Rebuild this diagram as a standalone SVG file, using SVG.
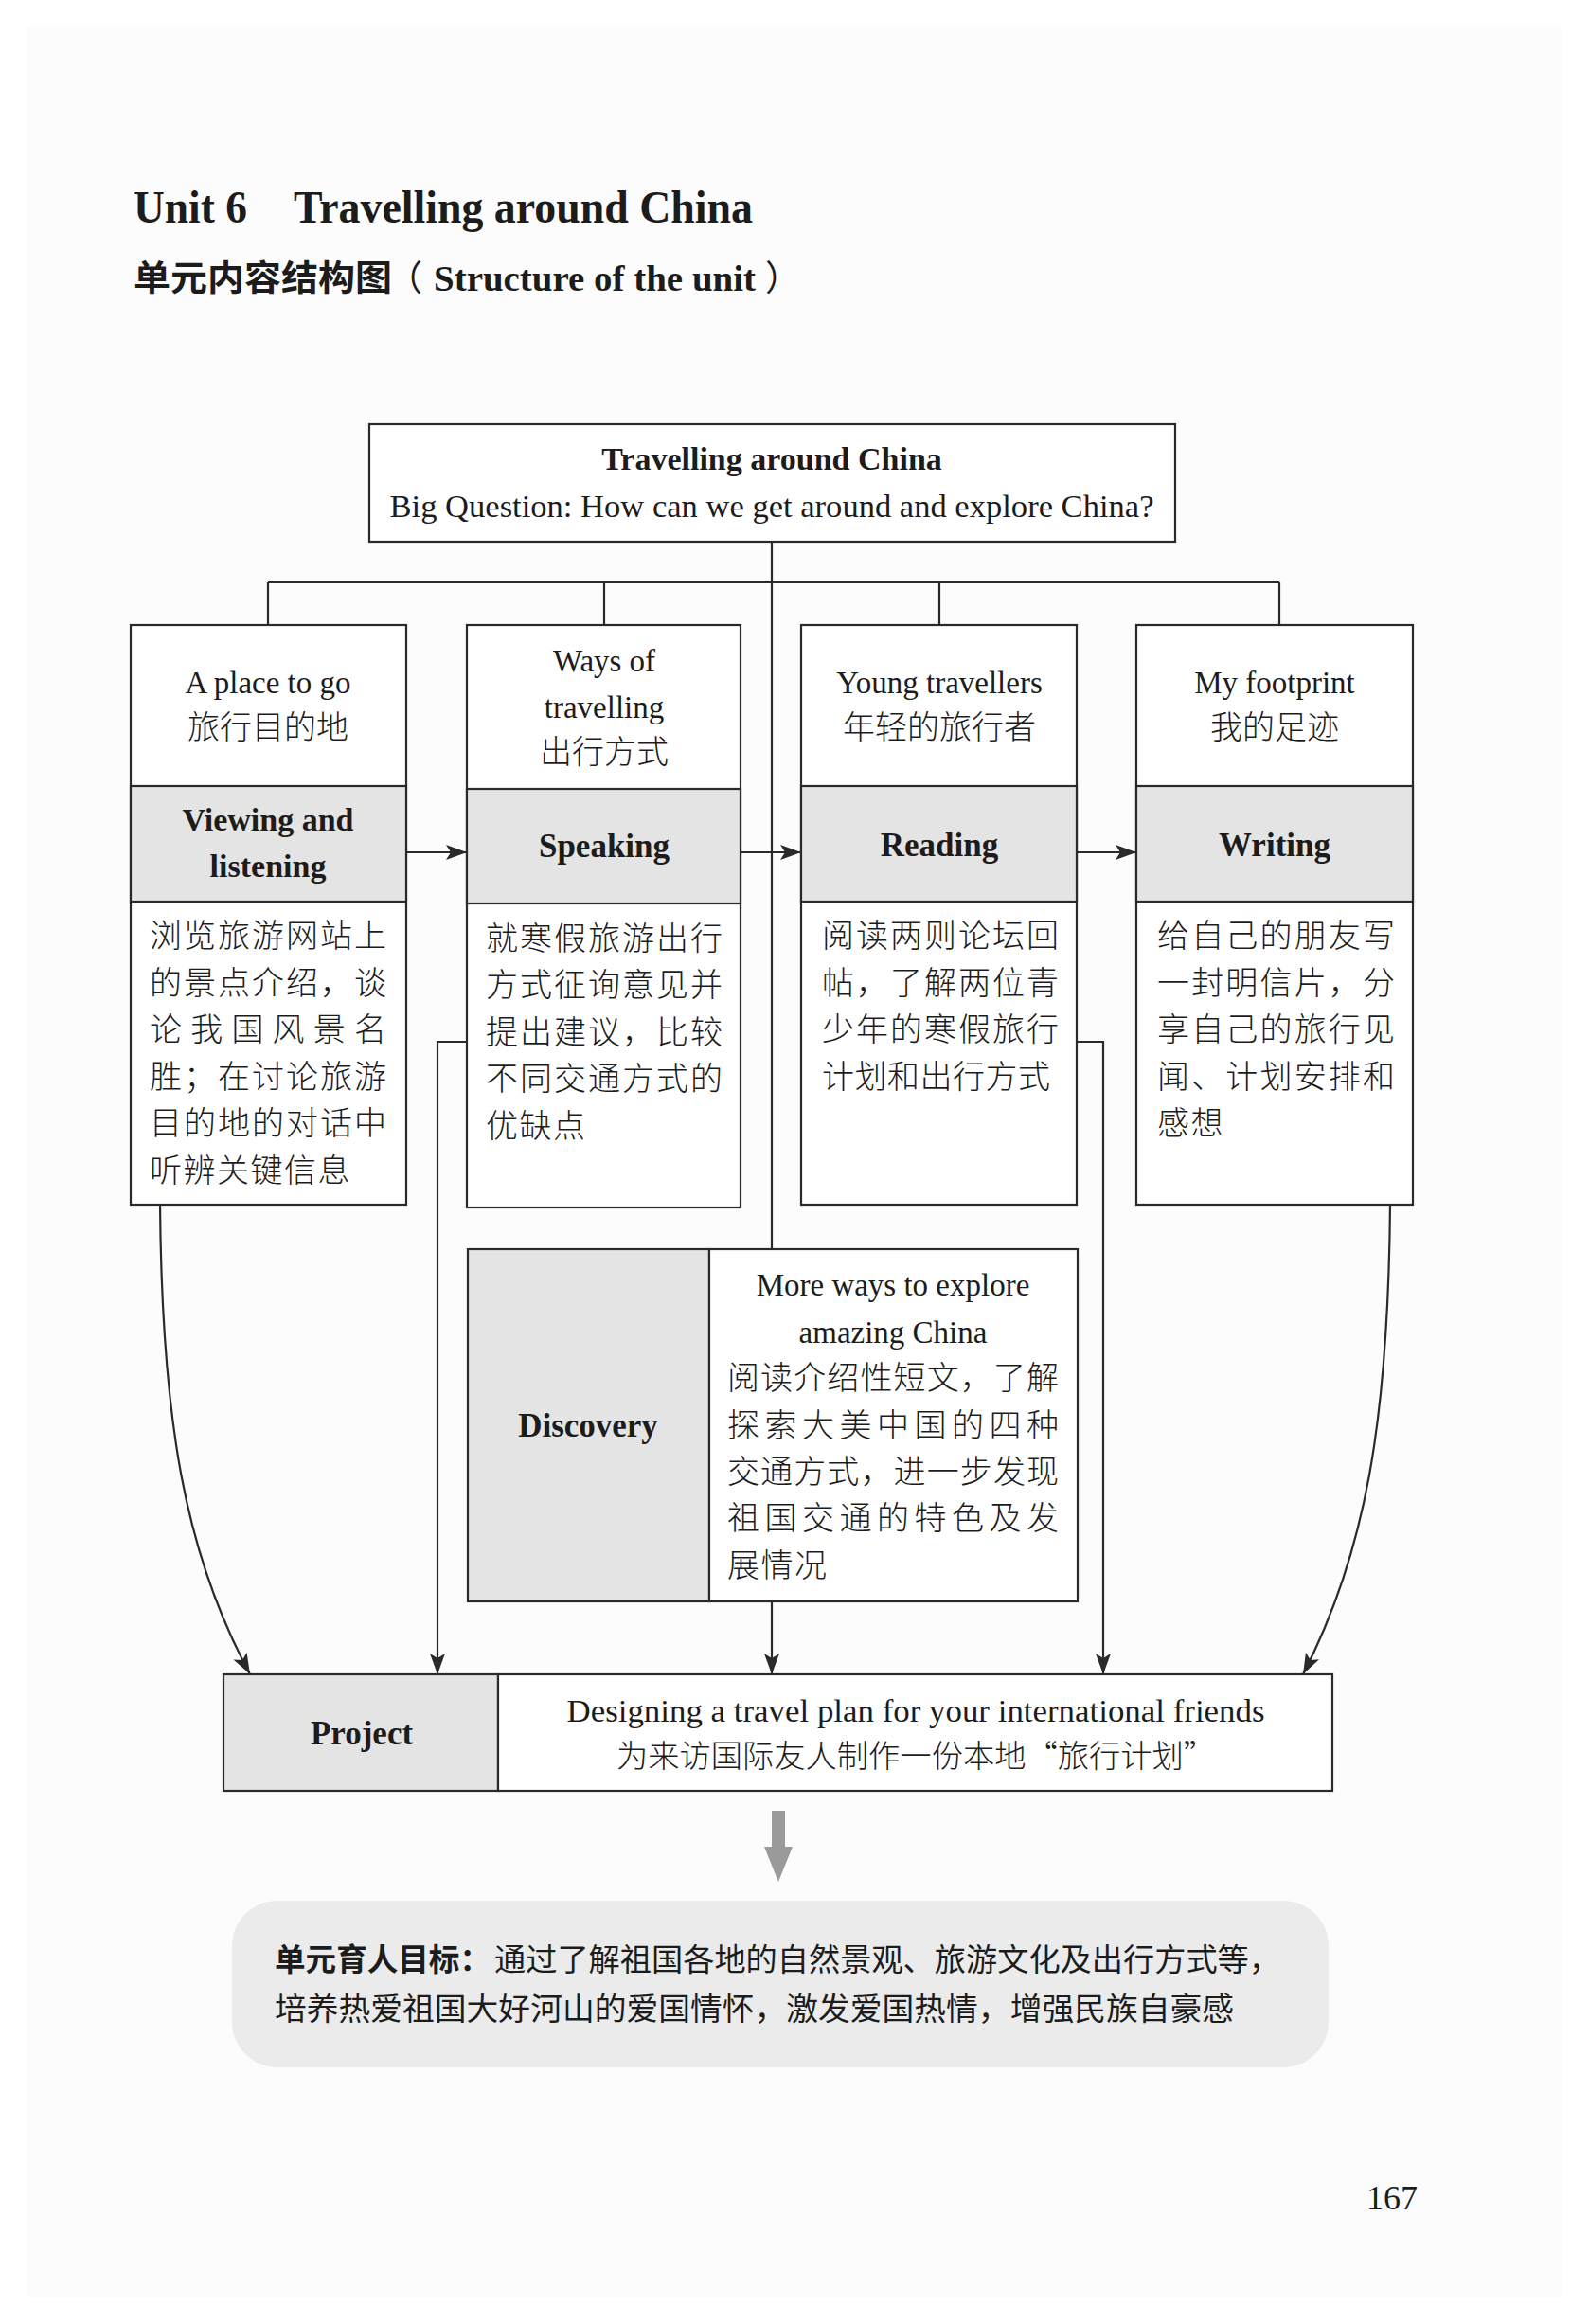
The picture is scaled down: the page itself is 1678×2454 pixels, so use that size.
<svg xmlns="http://www.w3.org/2000/svg" width="1678" height="2454" viewBox="0 0 1678 2454">
<style>
.en{font-family:"Liberation Serif","Times New Roman",serif;fill:#1c1c1c}
.b{font-weight:bold}
.cn{font-family:"Noto Sans CJK SC","Noto Sans",sans-serif;fill:#1c1c1c;font-weight:300}
.cnr{font-family:"Noto Sans CJK SC","Noto Sans",sans-serif;fill:#1c1c1c;font-weight:400}
.cnb{font-family:"Noto Sans CJK SC","Noto Sans",sans-serif;fill:#1c1c1c;font-weight:700}
.box{fill:#ffffff;stroke:#2a2a2a;stroke-width:2.2}
.band{fill:#e4e4e4;stroke:#2a2a2a;stroke-width:2.2}
.ln{fill:none;stroke:#2a2a2a;stroke-width:2.2}
.arr{fill:none;stroke:#2a2a2a;stroke-width:2.2;marker-end:url(#ah)}
.mid{text-anchor:middle}
</style>
<defs>
<marker id="ah" markerUnits="userSpaceOnUse" markerWidth="24" markerHeight="18" refX="22" refY="8" orient="auto">
<path d="M0,0 L22,8 L0,16 L5,8 Z" fill="#2a2a2a"/>
</marker>
</defs>
<rect x="0" y="0" width="1678" height="2454" fill="#ffffff"/>
<rect x="28" y="28" width="1621" height="2398" fill="#fcfcfc"/>

<g id="title">
<text class="en b" x="141" y="235" font-size="48" textLength="120" lengthAdjust="spacingAndGlyphs">Unit 6</text>
<text class="en b" x="310" y="235" font-size="48" textLength="485" lengthAdjust="spacingAndGlyphs">Travelling around China</text>
<text class="cnb" x="141" y="307" font-size="37" textLength="273" lengthAdjust="spacingAndGlyphs">单元内容结构图</text>
<text class="cnr" x="409" y="307" font-size="37">（</text>
<text class="en b" x="458" y="307" font-size="38" textLength="340" lengthAdjust="spacingAndGlyphs">Structure of the unit</text>
<text class="cnr" x="808" y="307" font-size="37">）</text>
</g>

<g id="connectors">
<line class="ln" x1="815" y1="572" x2="815" y2="1318"/>
<line class="ln" x1="283" y1="615" x2="1351" y2="615"/>
<line class="ln" x1="283" y1="615" x2="283" y2="660"/>
<line class="ln" x1="638" y1="615" x2="638" y2="660"/>
<line class="ln" x1="992" y1="615" x2="992" y2="660"/>
<line class="ln" x1="1351" y1="615" x2="1351" y2="660"/>
<line class="arr" x1="429" y1="900" x2="493" y2="900"/>
<line class="arr" x1="782" y1="900" x2="846" y2="900"/>
<line class="arr" x1="1137" y1="900" x2="1200" y2="900"/>
<path class="arr" d="M169,1272 C171,1500 195,1640 264,1768"/>
<path class="arr" d="M493,1100 L462,1100 L462,1768"/>
<line class="arr" x1="815" y1="1691" x2="815" y2="1768"/>
<path class="arr" d="M1137,1100 L1165,1100 L1165,1768"/>
<path class="arr" d="M1468,1272 C1466,1500 1442,1640 1376,1768"/>
</g>

<g id="top-node">
<rect class="box" x="390" y="448" width="851" height="124"/>
<text class="en b mid" x="815" y="496" font-size="34">Travelling around China</text>
<text class="en mid" x="815" y="546" font-size="33" textLength="807" lengthAdjust="spacingAndGlyphs">Big Question: How can we get around and explore China?</text>
</g>

<g id="node-viewing">
<rect class="box" x="138" y="660" width="291" height="612"/>
<rect class="band" x="138" y="830" width="291" height="122"/>
<text class="en mid" x="283" y="732" font-size="33">A place to go</text>
<text class="cn mid" x="283" y="780" font-size="34">旅行目的地</text>
<text class="en b mid" x="283" y="877" font-size="34">Viewing and</text>
<text class="en b mid" x="283" y="926" font-size="34">listening</text>
<text class="cn" x="158" y="1000" font-size="34" textLength="250" lengthAdjust="spacing">浏览旅游网站上</text>
<text class="cn" x="158" y="1050" font-size="34" textLength="250" lengthAdjust="spacing">的景点介绍，谈</text>
<text class="cn" x="158" y="1099" font-size="34" textLength="250" lengthAdjust="spacing">论我国风景名</text>
<text class="cn" x="158" y="1149" font-size="34" textLength="250" lengthAdjust="spacing">胜；在讨论旅游</text>
<text class="cn" x="158" y="1198" font-size="34" textLength="250" lengthAdjust="spacing">目的地的对话中</text>
<text class="cn" x="158" y="1248" font-size="34" letter-spacing="1.5">听辨关键信息</text>
</g>

<g id="node-speaking">
<rect class="box" x="493" y="660" width="289" height="615"/>
<rect class="band" x="493" y="833" width="289" height="121"/>
<text class="en mid" x="638" y="709" font-size="33">Ways of</text>
<text class="en mid" x="638" y="758" font-size="33">travelling</text>
<text class="cn mid" x="638" y="806" font-size="34">出行方式</text>
<text class="en b mid" x="638" y="905" font-size="35">Speaking</text>
<text class="cn" x="513" y="1003" font-size="34" textLength="250" lengthAdjust="spacing">就寒假旅游出行</text>
<text class="cn" x="513" y="1052" font-size="34" textLength="250" lengthAdjust="spacing">方式征询意见并</text>
<text class="cn" x="513" y="1102" font-size="34" textLength="250" lengthAdjust="spacing">提出建议，比较</text>
<text class="cn" x="513" y="1151" font-size="34" textLength="250" lengthAdjust="spacing">不同交通方式的</text>
<text class="cn" x="513" y="1201" font-size="34" letter-spacing="1.5">优缺点</text>
</g>

<g id="node-reading">
<rect class="box" x="846" y="660" width="291" height="612"/>
<rect class="band" x="846" y="830" width="291" height="122"/>
<text class="en mid" x="992" y="732" font-size="33">Young travellers</text>
<text class="cn mid" x="992" y="780" font-size="34">年轻的旅行者</text>
<text class="en b mid" x="992" y="904" font-size="35">Reading</text>
<text class="cn" x="868" y="1000" font-size="34" textLength="250" lengthAdjust="spacing">阅读两则论坛回</text>
<text class="cn" x="868" y="1050" font-size="34" textLength="250" lengthAdjust="spacing">帖，了解两位青</text>
<text class="cn" x="868" y="1099" font-size="34" textLength="250" lengthAdjust="spacing">少年的寒假旅行</text>
<text class="cn" x="868" y="1149" font-size="34" letter-spacing="0.5">计划和出行方式</text>
</g>

<g id="node-writing">
<rect class="box" x="1200" y="660" width="292" height="612"/>
<rect class="band" x="1200" y="830" width="292" height="122"/>
<text class="en mid" x="1346" y="732" font-size="33">My footprint</text>
<text class="cn mid" x="1346" y="780" font-size="34">我的足迹</text>
<text class="en b mid" x="1346" y="904" font-size="35">Writing</text>
<text class="cn" x="1222" y="1000" font-size="34" textLength="251" lengthAdjust="spacing">给自己的朋友写</text>
<text class="cn" x="1222" y="1050" font-size="34" textLength="251" lengthAdjust="spacing">一封明信片，分</text>
<text class="cn" x="1222" y="1099" font-size="34" textLength="251" lengthAdjust="spacing">享自己的旅行见</text>
<text class="cn" x="1222" y="1149" font-size="34" textLength="251" lengthAdjust="spacing">闻、计划安排和</text>
<text class="cn" x="1222" y="1198" font-size="34" letter-spacing="1.5">感想</text>
</g>

<g id="node-discovery">
<rect class="band" x="494" y="1319" width="255" height="372"/>
<rect class="box" x="749" y="1319" width="389" height="372"/>
<text class="en b mid" x="621" y="1517" font-size="35">Discovery</text>
<text class="en mid" x="943" y="1368" font-size="33">More ways to explore</text>
<text class="en mid" x="943" y="1418" font-size="33">amazing China</text>
<text class="cn" x="768" y="1467" font-size="34" textLength="350" lengthAdjust="spacing">阅读介绍性短文，了解</text>
<text class="cn" x="768" y="1517" font-size="34" textLength="350" lengthAdjust="spacing">探索大美中国的四种</text>
<text class="cn" x="768" y="1566" font-size="34" textLength="350" lengthAdjust="spacing">交通方式，进一步发现</text>
<text class="cn" x="768" y="1615" font-size="34" textLength="350" lengthAdjust="spacing">祖国交通的特色及发</text>
<text class="cn" x="768" y="1665" font-size="34" letter-spacing="1.5">展情况</text>
</g>

<g id="node-project">
<rect class="band" x="236" y="1768" width="290" height="123"/>
<rect class="box" x="526" y="1768" width="881" height="123"/>
<text class="en b mid" x="382" y="1842" font-size="35">Project</text>
<text class="en mid" x="967" y="1818" font-size="34" textLength="737" lengthAdjust="spacingAndGlyphs">Designing a travel plan for your international friends</text>
<text class="cn mid" x="967" y="1866" font-size="33" textLength="632" lengthAdjust="spacingAndGlyphs">为来访国际友人制作一份本地“旅行计划”</text>
</g>

<g id="goal-arrow">
<path d="M815,1912 L829,1912 L829,1950 L837,1950 L822,1987 L807,1950 L815,1950 Z" fill="#9a9a9a"/>
</g>

<g id="node-goal">
<rect x="245" y="2007" width="1158" height="176" rx="48" ry="48" fill="#ebebeb"/>
<text class="cnb" x="290" y="2081" font-size="33" textLength="228" lengthAdjust="spacingAndGlyphs">单元育人目标：</text>
<text class="cnr" x="522" y="2081" font-size="33" textLength="830" lengthAdjust="spacingAndGlyphs">通过了解祖国各地的自然景观、旅游文化及出行方式等，</text>
<text class="cnr" x="290" y="2133" font-size="33" textLength="1013" lengthAdjust="spacingAndGlyphs">培养热爱祖国大好河山的爱国情怀，激发爱国热情，增强民族自豪感</text>
</g>

<text class="en" x="1443" y="2333" font-size="36">167</text>
</svg>
